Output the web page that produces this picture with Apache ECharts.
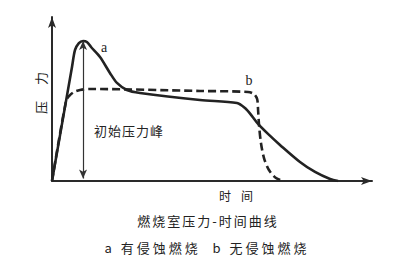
<!DOCTYPE html>
<html><head><meta charset="utf-8">
<script src="https://cdn.jsdelivr.net/npm/echarts@6/dist/echarts.min.js"></script>
<style>
html,body{margin:0;padding:0;background:#fff}
#c{width:400px;height:265px}
#c text[fill="#1f1f1f"]{letter-spacing:16px}
#c text[fill="#202020"]{letter-spacing:10px}
#c text[fill="#212121"]{letter-spacing:2px}
#c text[fill="#232323"]{letter-spacing:3px}
#c text[fill="#242424"]{letter-spacing:1px}
</style></head><body><div id="c"></div>
<script>
// curve a (with erosive burning): time, pressure (arbitrary units)
const timeA     = [0, 6.25, 7.2, 8.4, 9.7, 10.9, 12.2, 15, 18.1, 20.3, 23.4, 27.5, 46.25, 57.8, 60.3, 62.5, 64.4, 67.5, 71.25, 77.5, 82.2, 86.9, 89.4];
const pressureA = [0, 69.5, 79.9, 84.1, 85.4, 84.8, 81.7, 75.6, 65.9, 59.8, 55.5, 53.7, 49.4, 47.6, 44.5, 39.6, 34.8, 28.7, 22, 11.6, 5.5, 1.2, 0];
// curve b (no erosive burning)
const timeB     = [0, 4.4, 5.4, 6.8, 8.75, 11.9, 46.25, 61.25, 63.1, 64.1, 64.4, 64.7, 65.3, 66.25, 67.8, 70, 72.2];
const pressureB = [0, 48.9, 51.9, 54.2, 55.5, 56.1, 54.9, 54.3, 53, 50, 43.3, 34.1, 23.2, 14, 6.7, 1.8, 0];
// initial pressure peak marker
const peakTime = 9.7, peakPressure = 85.4;
const labels = {
  yName: '压力', xName: '时间', title: '燃烧室压力-时间曲线',
  legend: 'a 有侵蚀燃烧  b 无侵蚀燃烧', peak: '初始压力峰', a: 'a', b: 'b'
};

const chart = echarts.init(document.getElementById('c'), null, {renderer: 'svg'});
const ink = '#2a2a2a';
const cjk = '"Noto Sans CJK SC", sans-serif';
const serif = '"Liberation Serif", "DejaVu Serif", serif';
chart.setOption({
  animation: false,
  backgroundColor: '#fff',
  grid: {left: 52, right: 28, top: 17, bottom: 84},
  xAxis: {
    type: 'value', min: 0, max: 100,
    axisLine: {show: true, symbol: ['none', 'arrow'], symbolSize: [6, 11], lineStyle: {color: ink, width: 2}},
    axisTick: {show: false}, axisLabel: {show: false}, splitLine: {show: false}
  },
  yAxis: {
    type: 'value', min: 0, max: 100,
    axisLine: {show: true, symbol: ['none', 'arrow'], symbolSize: [6, 11], lineStyle: {color: ink, width: 2}},
    axisTick: {show: false}, axisLabel: {show: false}, splitLine: {show: false}
  },
  series: [
    {
      type: 'line', data: timeA.map((t, i) => [t, pressureA[i]]),
      smooth: 0.3, showSymbol: false,
      lineStyle: {color: '#222', width: 2.6},
      markLine: {
        silent: true, symbol: ['arrow', 'arrow'], symbolSize: [6, 9],
        label: {show: false},
        lineStyle: {color: '#333', width: 1.2, type: 'solid'},
        data: [[{coord: [peakTime, peakPressure]}, {coord: [peakTime, 1.5]}]]
      }
    },
    {
      type: 'line', data: timeB.map((t, i) => [t, pressureB[i]]),
      smooth: 0.3, showSymbol: false,
      lineStyle: {color: '#222', width: 2.6, type: [8, 4]}
    }
  ],
  graphic: [
    {type: 'text', x: 40, y: 85, rotation: Math.PI / 2,
     style: {text: labels.yName, font: '13px ' + cjk, fill: '#1f1f1f', textAlign: 'center', textVerticalAlign: 'middle'}},
    {type: 'text', x: 241, y: 195,
     style: {text: labels.xName, font: '12px ' + cjk, fill: '#202020', textAlign: 'center', textVerticalAlign: 'middle'}},
    {type: 'text', x: 208, y: 220,
     style: {text: labels.title, font: '13px ' + cjk, fill: '#212121', textAlign: 'center', textVerticalAlign: 'middle'}},
    {type: 'text', x: 207, y: 247,
     style: {text: labels.legend, font: '13px ' + cjk, fill: '#232323', textAlign: 'center', textVerticalAlign: 'middle'}},
    {type: 'text', x: 129, y: 130,
     style: {text: labels.peak, font: '13px ' + cjk, fill: '#242424', textAlign: 'center', textVerticalAlign: 'middle'}},
    {type: 'text', x: 104, y: 47,
     style: {text: labels.a, font: '14px ' + serif, fill: '#222', textAlign: 'center', textVerticalAlign: 'middle'}},
    {type: 'text', x: 249, y: 80,
     style: {text: labels.b, font: '14px ' + serif, fill: '#222', textAlign: 'center', textVerticalAlign: 'middle'}}
  ]
});
</script></body></html>
